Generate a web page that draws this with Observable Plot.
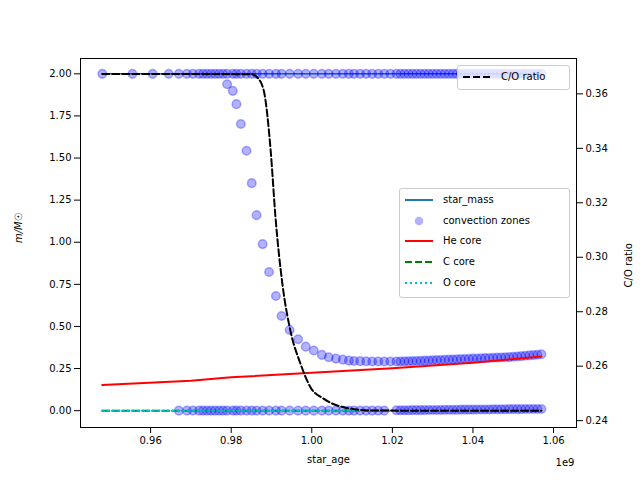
<!DOCTYPE html>
<html><head><meta charset="utf-8">
<script src="https://cdn.jsdelivr.net/npm/d3@7"></script>
<script src="https://cdn.jsdelivr.net/npm/@observablehq/plot@0.6"></script>
<style>
body{margin:0;font-family:"DejaVu Sans",sans-serif;}
#wrap{position:relative;width:640px;height:480px;}
.lg{position:absolute;background:rgba(255,255,255,0.8);border:1px solid #ccc;border-radius:3px;font-size:10px;}
.row{position:absolute;left:0;height:14px;line-height:14px;white-space:nowrap;}
.row svg{position:absolute;left:4px;top:0;}
.row span{position:absolute;left:43px;}
</style></head>
<body><div id="wrap"><div id="chart"></div></div>
<script>
// ages in units of 1e9 yr
const zoneAges = [0.948,0.9555,0.9605,0.9645,0.967,0.969,0.9705,0.972,0.973,0.974,0.975,0.976,0.977,0.978,
  0.9790,0.9804,0.9813,0.9824,0.9838,0.9851,0.9863,0.9878,0.9894,0.9911,0.9925,0.9945,0.9966,0.9985,1.0005,1.0025,1.0042,1.0060,1.0077,1.0092,
  1.0105,1.012,1.0135,1.015,1.0165,1.018,1.0195,1.021,1.022,1.023,1.024,1.025,1.026,1.027,1.028,1.029,1.030,1.031,1.032,1.033,1.034,1.035,1.036,1.037,1.038,1.039,1.040,1.041,1.042,1.043,1.044,1.045,1.046,1.047,1.048,1.049,1.050,1.051,1.052,1.053,1.054,1.055,1.056,1.057];
const zoneMid = [null,null,null,null,null,null,null,null,null,null,null,null,null,null,
  1.938,1.899,1.820,1.702,1.543,1.351,1.161,0.989,0.823,0.681,0.562,0.479,0.424,0.380,0.357,0.331,0.317,0.309,0.303,0.297,
  0.295,0.294,0.293,0.292,0.292,0.292,0.292,0.292,0.292,0.293,0.293,0.294,0.295,0.296,0.297,0.298,0.299,0.300,0.301,0.302,0.303,0.304,0.305,0.306,0.307,0.308,0.309,0.310,0.311,0.312,0.313,0.314,0.315,0.316,0.317,0.318,0.320,0.322,0.324,0.326,0.328,0.330,0.332,0.335];
const zoneBottom = [null,null,null,null,0,0,0,0,0,0,0,0,0,0,
  0,0,0,0,0,0,0,0,0,0,0,0,0,0,0,0,0,0,0,0,
  0,0,0,0,0,0,null,0.002,0.002,0.002,0.002,0.003,0.003,0.003,0.003,0.004,0.004,0.004,0.004,0.005,0.005,0.005,0.005,0.006,0.006,0.006,0.006,0.007,0.007,0.007,0.007,0.008,0.008,0.008,0.008,0.009,0.009,0.009,0.009,0.010,0.010,0.010,0.010,0.010];
const starMass = 2.0;
const heAges = [0.948,0.97,0.98,1.0,1.02,1.04,1.057];
const heCore = [0.152,0.178,0.198,0.225,0.252,0.285,0.322];
const coAges = [0.948,0.970,0.985,0.9865,0.9881,0.9898,0.9910,0.9927,0.9947,0.9972,0.9997,1.0029,1.0079,1.0153,1.057];
const coRatio = [0.3673,0.3673,0.3672,0.3660,0.3611,0.3391,0.3146,0.2903,0.2730,0.2609,0.2522,0.2481,0.2449,0.2437,0.2436];
const rightTicks = [0.24,0.26,0.28,0.30,0.32,0.34,0.36];

// map right-axis values onto the left scale and back
const toLeft = v => -0.0593 + (v - 0.24) * 16.169;
const toRight = y => (y + 0.0593) / 16.169 + 0.24;

const zTop = zoneAges.map(a => ({x: a, y: starMass}));
const zMid = zoneAges.map((a, i) => ({x: a, y: zoneMid[i]})).filter(d => d.y != null);
const zBot = zoneAges.map((a, i) => ({x: a, y: zoneBottom[i]})).filter(d => d.y != null);
const zones = zTop.concat(zMid, zBot);
const he = heAges.map((a, i) => ({x: a, y: heCore[i]}));
const co = coAges.map((a, i) => ({x: a, y: toLeft(coRatio[i])}));
const ends = [{x: 0.948, y: 0}, {x: 1.057, y: 0}];
const massLine = [{x: 0.948, y: starMass}, {x: 1.057, y: starMass}];

const chart = Plot.plot({
  width: 640, height: 480,
  marginLeft: 80, marginRight: 64, marginTop: 58, marginBottom: 53,
  style: {fontFamily: "DejaVu Sans", fontSize: "10px", color: "black"},
  x: {domain: [0.9426, 1.0657], ticks: [0.96,0.98,1.00,1.02,1.04,1.06], tickFormat: d3.format(".2f"), label: null},
  y: {domain: [-0.1, 2.091], label: null, axis: null},
  marks: [
    Plot.line(massLine, {x: "x", y: "y", stroke: "#1f77b4", strokeWidth: 1.5}),
    Plot.dot(zones, {x: "x", y: "y", r: 4.3, fill: "blue", fillOpacity: 0.3, stroke: "blue", strokeOpacity: 0.3}),
    Plot.line(he, {x: "x", y: "y", stroke: "red", strokeWidth: 2}),
    Plot.line(ends, {x: "x", y: "y", stroke: "green", strokeWidth: 2, strokeDasharray: "7,3"}),
    Plot.line(ends, {x: "x", y: "y", stroke: "#00bfbf", strokeWidth: 2, strokeDasharray: "2,3"}),
    Plot.line(co, {x: "x", y: "y", stroke: "black", strokeWidth: 2, strokeDasharray: "7,3", curve: "monotone-x"}),
    Plot.frame(),
    Plot.axisY({ticks: [0,0.25,0.5,0.75,1,1.25,1.5,1.75,2], tickFormat: d3.format(".2f"), label: null}),
    Plot.axisY({anchor: "right", ticks: rightTicks.map(toLeft), tickFormat: d => toRight(d).toFixed(2), label: null}),
    Plot.text(["star_age"], {frameAnchor: "bottom", dy: 35, fontSize: 10}),
    Plot.text(["1e9"], {frameAnchor: "bottom-right", dx: -2, dy: 38, fontSize: 10}),
    Plot.text(["m/M☉"], {frameAnchor: "left", dx: -62, rotate: -90, fontSize: 10, fontStyle: "italic"}),
    Plot.text(["C/O ratio"], {frameAnchor: "right", dx: 52, rotate: -90, fontSize: 10})
  ]
});
d3.select("#chart").append(() => chart);

// legends
const wrap = d3.select("#wrap");
function legend(box, rows) {
  const lg = wrap.append("div").attr("class", "lg")
    .style("left", box[0] + "px").style("top", box[1] + "px")
    .style("width", box[2] + "px").style("height", box[3] + "px");
  rows.forEach((r, i) => {
    const row = lg.append("div").attr("class", "row").style("top", (4 + i * 20.7) + "px");
    const s = row.append("svg").attr("width", 32).attr("height", 14);
    if (r.dot) s.append("circle").attr("cx", 15).attr("cy", 7).attr("r", 4.3).attr("fill", "blue").attr("fill-opacity", 0.3);
    else s.append("line").attr("x1", 1).attr("x2", 29).attr("y1", 7).attr("y2", 7)
      .attr("stroke", r.c).attr("stroke-width", 2).attr("stroke-dasharray", r.dash || null);
    row.append("span").text(r.t);
  });
}
legend([457, 65, 111, 23], [{t: "C/O ratio", c: "black", dash: "7,3"}]);
legend([399, 188, 169, 108], [
  {t: "star_mass", c: "#1f77b4"},
  {t: "convection zones", dot: true},
  {t: "He core", c: "red"},
  {t: "C core", c: "green", dash: "7,3"},
  {t: "O core", c: "#00bfbf", dash: "2,3"}
]);
</script></body></html>
